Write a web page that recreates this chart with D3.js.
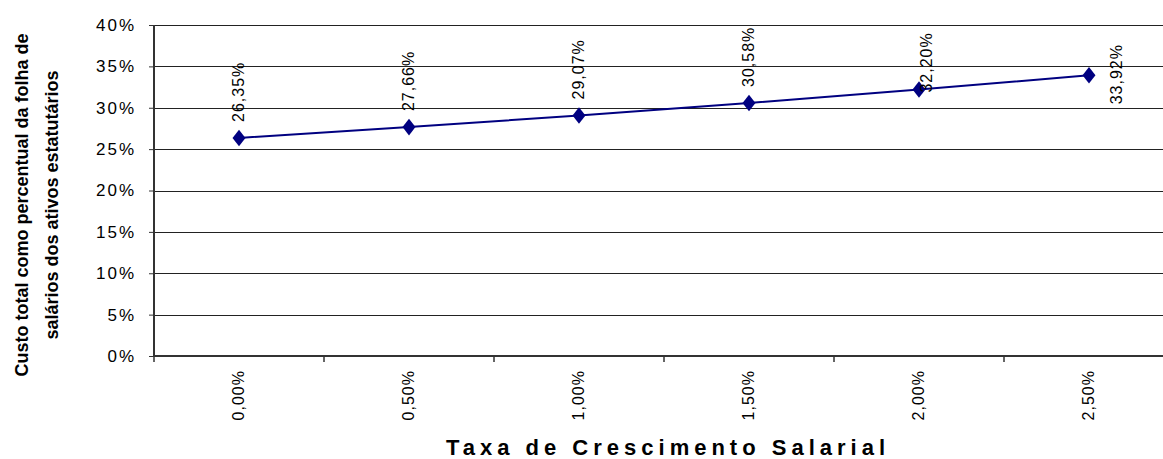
<!DOCTYPE html>
<html><head><meta charset="utf-8">
<script src="https://cdn.jsdelivr.net/npm/d3@7"></script>
<style>body{margin:0;background:#fff}svg{display:block}text{font-family:"Liberation Sans",Arial,sans-serif}</style>
</head><body><svg id="c" width="1163" height="459"></svg>
<script>
const categories = ["0,00%","0,50%","1,00%","1,50%","2,00%","2,50%"];
const values = [26.35, 27.66, 29.07, 30.58, 32.20, 33.92];
const valueLabels = ["26,35%","27,66%","29,07%","30,58%","32,20%","33,92%"];
const yTicks = [0,5,10,15,20,25,30,35,40];
const yTickLabels = ["0%","5%","10%","15%","20%","25%","30%","35%","40%"];
const xTitle = "Taxa de Crescimento Salarial";
const yTitle = ["Custo total como percentual da folha de","salários dos ativos estatutários"];

const svg = d3.select("#c");
const L=154, R=1174, T=25, B=356;
const x = d3.scaleBand().domain(categories).range([L,R]);
const y = d3.scaleLinear().domain([0,40]).range([B,T]);

// gridlines
svg.append("g").selectAll("line").data(yTicks.filter(d=>d>0)).join("line")
  .attr("x1",L).attr("x2",R).attr("y1",d=>Math.round(y(d))+0.5).attr("y2",d=>Math.round(y(d))+0.5)
  .attr("stroke","#222").attr("stroke-width",1);

// y axis
const ya = svg.append("g").attr("transform",`translate(${L},0)`)
  .call(d3.axisLeft(y).tickValues(yTicks).tickFormat((d,i)=>yTickLabels[i]).tickSize(5).tickPadding(13));
ya.select(".domain").attr("stroke","#333").attr("stroke-width",2).attr("d",`M0,${T}V${B}`);
ya.selectAll(".tick line").attr("stroke","#333");
ya.selectAll(".tick text").attr("font-size",17).attr("letter-spacing","2px").attr("fill","#000")
  .attr("font-family","Liberation Sans, Arial, sans-serif");

// x axis
const xa = svg.append("g").attr("transform",`translate(0,${B})`)
  .call(d3.axisBottom(x).tickSize(0));
xa.select(".domain").attr("stroke","#333").attr("stroke-width",2).attr("d",`M${L},0H${R}`);
xa.selectAll(".tick text").attr("font-size",16).attr("letter-spacing","1px").attr("fill","#000")
  .attr("font-family","Liberation Sans, Arial, sans-serif")
  .attr("transform","rotate(-90)").attr("text-anchor","end").attr("x",-14).attr("y",-1).attr("dy","0.35em");
// separators between categories
svg.append("g").selectAll("line").data(categories).join("line")
  .attr("x1",d=>x(d)).attr("x2",d=>x(d)).attr("y1",B).attr("y2",B+6)
  .attr("stroke","#333").attr("stroke-width",1.5);

// line
const cx = (d,i)=>x(categories[i])+x.bandwidth()/2;
svg.append("path").datum(values)
  .attr("d",d3.line().x((d,i)=>cx(d,i)).y(d=>y(d)))
  .attr("fill","none").attr("stroke","#000080").attr("stroke-width",2);
svg.append("g").selectAll("path").data(values).join("path")
  .attr("d",d3.symbol().type(d3.symbolDiamond).size(110))
  .attr("transform",(d,i)=>`translate(${cx(d,i)},${y(d)}) scale(1.15,0.85)`)
  .attr("fill","#000080");

// data labels
svg.append("g").selectAll("text").data(values).join("text")
  .text((d,i)=>valueLabels[i])
  .attr("font-size",16).attr("letter-spacing","1px").attr("fill","#000")
  .attr("dy","0.35em")
  .attr("transform",(d,i)=>{
    const px=cx(d,i), py=y(d);
    if(py-16-62 < 20){
      if(i===categories.length-1) return `translate(${px+27},${py+29}) rotate(-90)`;
      return `translate(${px+7},${py+3}) rotate(-90)`;
    }
    return `translate(${px-1},${py-16}) rotate(-90)`;
  });

// titles
svg.append("text").text(xTitle).attr("x",668).attr("y",455)
  .attr("text-anchor","middle").attr("font-size",22).attr("font-weight","bold").attr("letter-spacing","5px");
yTitle.forEach((t,i)=>{
  svg.append("text").text(t).attr("transform",`translate(${i===0?28:58},205) rotate(-90)`)
    .attr("text-anchor","middle").attr("font-size",18).attr("font-weight","bold");
});
</script></body></html>
